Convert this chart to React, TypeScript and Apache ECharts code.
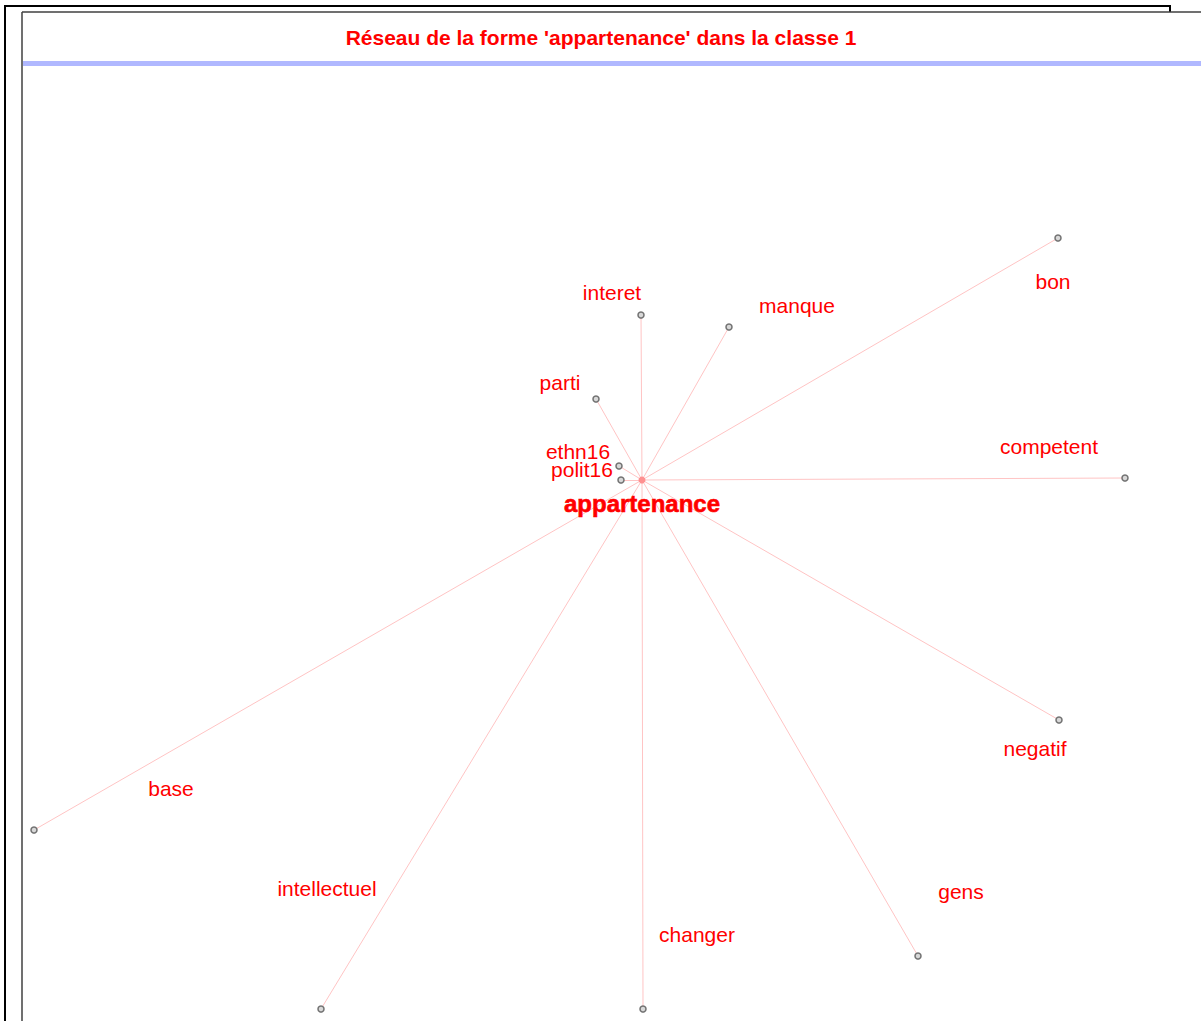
import React, { useEffect, useRef } from "react";
import * as echarts from "echarts";

const centerName = "appartenance";
const centerX = 642;
const centerY = 480;

const nodeNames = ["interet", "manque", "bon", "parti", "ethn16", "polit16", "competent", "negatif", "gens", "changer", "intellectuel", "base"];
const nodeX = [641, 729, 1058, 596, 619, 621, 1125, 1059, 918, 643, 321, 34];
const nodeY = [315, 327, 238, 399, 466, 480, 478, 720, 956, 1009, 1009, 830];

const titleText = "Réseau de la forme 'appartenance' dans la classe 1";

// label placement (style)
const labelOffsets: Record<string, [number, number]> = {
  interet: [-29, -23],
  manque: [68, -22],
  bon: [-5, 43],
  parti: [-36, -17],
  ethn16: [-41, -15],
  polit16: [-39, -11],
  competent: [-76, -32],
  negatif: [-24, 28],
  gens: [43, -65],
  changer: [54, -75],
  intellectuel: [6, -121],
  base: [137, -42],
};

export default function App() {
  const ref = useRef<HTMLDivElement>(null);
  useEffect(() => {
    if (!ref.current) return;
    const chart = echarts.init(ref.current, undefined, { renderer: "svg" });
    const nodes: any[] = nodeNames.map((n, i) => ({
      name: n,
      value: [nodeX[i], nodeY[i]],
      symbol: "circle",
      symbolSize: 6,
      itemStyle: { color: "#d8d8d8", borderColor: "#707070", borderWidth: 1.5 },
      label: {
        show: true,
        position: "inside",
        offset: labelOffsets[n],
        align: "center",
        verticalAlign: "middle",
        color: "#ff0000",
        fontFamily: "Liberation Sans",
        fontSize: 21,
        formatter: "{b}",
      },
    }));
    nodes.push({
      name: centerName,
      value: [centerX, centerY],
      symbol: "circle",
      symbolSize: 7,
      itemStyle: { color: "#ff9090", borderWidth: 0 },
      label: {
        show: true,
        position: "inside",
        offset: [0, 23],
        align: "center",
        verticalAlign: "middle",
        color: "#ff0000",
        fontFamily: "Liberation Sans",
        fontWeight: "bold",
        fontSize: 24,
        textBorderColor: "#ff0000",
        textBorderWidth: 0.6,
        formatter: "{b}",
      },
    });
    const links = nodeNames.map((n) => ({ source: centerName, target: n }));
    chart.setOption({
      animation: false,
      grid: { left: 0, right: 0, top: 0, bottom: 0 },
      xAxis: { type: "value", min: 0, max: 1201, show: false },
      yAxis: { type: "value", min: 0, max: 1021, inverse: true, show: false },
      graphic: [
        { type: "line", shape: { x1: 4, y1: 6, x2: 1171, y2: 6 }, style: { stroke: "#000", lineWidth: 2 } },
        { type: "line", shape: { x1: 5, y1: 6, x2: 5, y2: 1021 }, style: { stroke: "#000", lineWidth: 2 } },
        { type: "line", shape: { x1: 1170, y1: 6, x2: 1170, y2: 12 }, style: { stroke: "#000", lineWidth: 2 } },
        { type: "line", shape: { x1: 22, y1: 12, x2: 1201, y2: 12 }, style: { stroke: "#404040", lineWidth: 1.5 } },
        { type: "line", shape: { x1: 22, y1: 12, x2: 22, y2: 1021 }, style: { stroke: "#404040", lineWidth: 1.5 } },
        { type: "rect", shape: { x: 23, y: 61, width: 1178, height: 5 }, style: { fill: "#b0b8ff" } },
        {
          type: "text",
          x: 601,
          y: 37,
          style: {
            text: titleText,
            fill: "#ff0000",
            font: "bold 21px 'Liberation Sans'",
            textAlign: "center",
            textVerticalAlign: "middle",
          },
        },
      ],
      series: [
        {
          type: "graph",
          coordinateSystem: "cartesian2d",
          layout: "none",
          data: nodes,
          links,
          edgeSymbol: ["none", "none"],
          lineStyle: { color: "#ffc4c4", width: 1, opacity: 1, curveness: 0 },
          emphasis: { disabled: true },
          z: 2,
        },
      ],
    });
    return () => chart.dispose();
  }, []);
  return (
    <div
      ref={ref}
      style={{ position: "fixed", left: 0, top: 0, width: 1201, height: 1021, background: "#fff" }}
    />
  );
}
